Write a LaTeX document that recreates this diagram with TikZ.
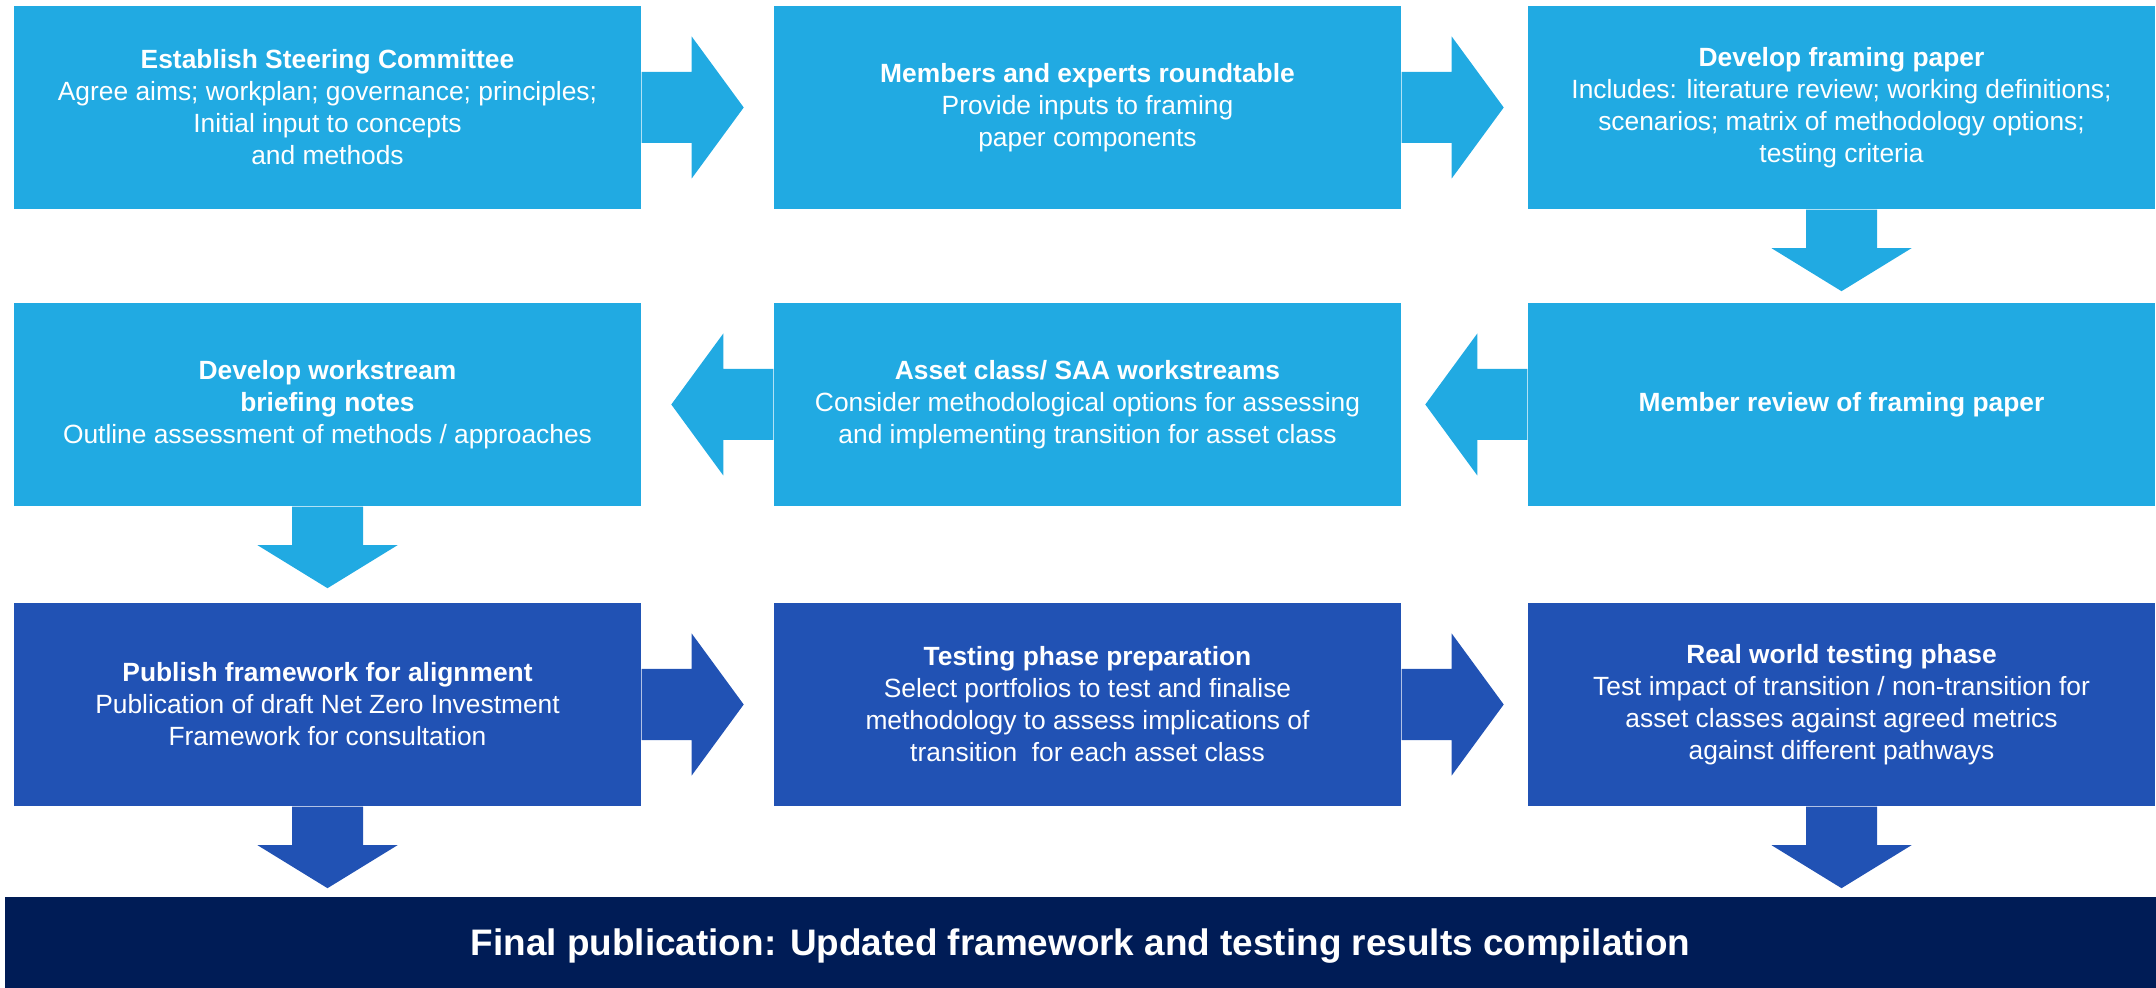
\documentclass[tikz,border=0pt]{standalone}
\usepackage{fontspec}
\setmainfont{Liberation Sans}
\usepackage{tikz}
\usetikzlibrary{calc}

\definecolor{sky}{RGB}{33,170,226}
\definecolor{royal}{RGB}{33,82,180}
\definecolor{navy}{RGB}{0,28,86}

\begin{document}
\begin{tikzpicture}[
    font=\fontsize{7.5}{9.1}\selectfont,
    box/.style={fill=#1, text=white, align=center, inner sep=0pt,
                minimum width=6.27cm, minimum height=2.03cm}]

  \useasboundingbox (0, 0) rectangle (21.56, -9.88);

  \node[box=sky] (steer) at (3.275, -1.075)
    {\textbf{Establish Steering Committee}\\ Agree aims; workplan; governance; principles;\\ Initial input to concepts\\ and methods};
  \node[box=sky] (round) at (10.875, -1.075)
    {\textbf{Members and experts roundtable}\\ Provide inputs to framing\\ paper components};
  \node[box=sky] (framing) at (18.415, -1.075)
    {\textbf{Develop framing paper}\\ Includes: literature review; working definitions;\\ scenarios; matrix of methodology options;\\ testing criteria};

  \node[box=sky] (briefing) at (3.275, -4.045)
    {\textbf{Develop workstream}\\ \textbf{briefing notes}\\ Outline assessment of methods / approaches};
  \node[box=sky] (assets) at (10.875, -4.045)
    {\textbf{Asset class/ SAA workstreams}\\ Consider methodological options for assessing\\ and implementing transition for asset class};
  \node[box=sky] (review) at (18.415, -4.045)
    {\textbf{Member review of framing paper}};

  \node[box=royal] (publish) at (3.275, -7.045)
    {\textbf{Publish framework for alignment}\\ Publication of draft Net Zero Investment\\ Framework for consultation};
  \node[box=royal] (prep) at (10.875, -7.045)
    {\textbf{Testing phase preparation}\\ Select portfolios to test and finalise\\ methodology to assess implications of\\ transition\ \ for each asset class};
  \node[box=royal] (realworld) at (18.415, -7.045)
    {\textbf{Real world testing phase}\\ Test impact of transition / non-transition for\\ asset classes against agreed metrics\\ against different pathways};

  \node[fill=navy, text=white, inner sep=0pt, text depth=0pt,
        minimum width=21.51cm, minimum height=0.91cm,
        font=\fontsize{10.5}{12}\selectfont\bfseries] (final) at (10.805, -9.425)
    {Final publication: Updated framework and testing results compilation};

  \foreach \n/\c in {steer/sky, round/sky, publish/royal, prep/royal} {
    \fill[\c] ($(\n.east) + (0, 0.355)$) -- ++(0.5, 0) -- ++(0, 0.355) -- ++(0.52, -0.71)
      -- ++(-0.52, -0.71) -- ++(0, 0.355) -- ++(-0.5, 0) -- cycle;
  }

  \foreach \n/\c in {review/sky, assets/sky} {
    \fill[\c] ($(\n.west) + (0, 0.355)$) -- ++(-0.5, 0) -- ++(0, 0.355) -- ++(-0.52, -0.71)
      -- ++(0.52, -0.71) -- ++(0, 0.355) -- ++(0.5, 0) -- cycle;
  }

  \foreach \n/\c in {framing/sky, briefing/sky, publish/royal, realworld/royal} {
    \fill[\c] ($(\n.south) + (-0.355, 0)$) -- ++(0, -0.385) -- ++(-0.345, 0) -- ++(0.7, -0.43)
      -- ++(0.7, 0.43) -- ++(-0.345, 0) -- ++(0, 0.385) -- cycle;
  }

\end{tikzpicture}
\end{document}
